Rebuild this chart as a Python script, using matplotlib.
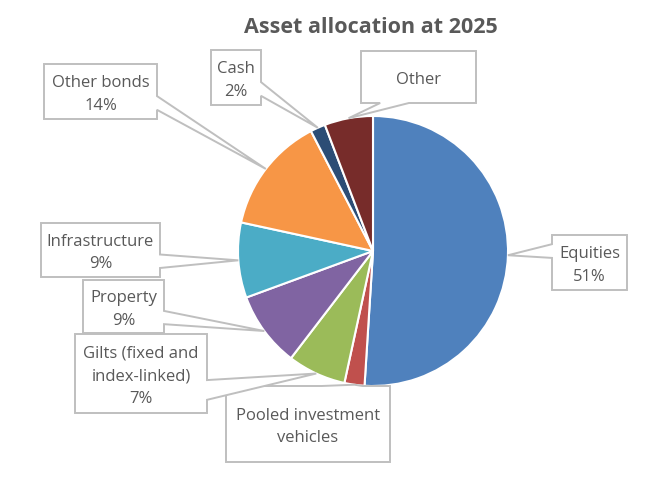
import numpy as np
import matplotlib.pyplot as plt
from matplotlib.patches import Polygon

plt.rcParams['font.family'] = ['Open Sans', 'DejaVu Sans']

# data
names = ['Equities', 'Pooled investment\nvehicles', 'Gilts (fixed and\nindex-linked)',
         'Property', 'Infrastructure', 'Other bonds', 'Cash', 'Other']
values = [51, 2.4, 7, 9, 9, 14, 1.8, 5.8]
show_pct = [True, False, True, True, True, True, True, False]
colors = ['#4F81BD', '#C0504D', '#9BBB59', '#8064A2', '#4BACC6', '#F79646', '#2C4D75', '#772C2A']

# label boxes in pixel coords (x0, y0, x1, y1), y going down
boxes = [(552, 235, 627, 290), (226, 386, 390, 462), (75, 334, 207, 413),
         (83, 280, 164, 333), (41, 223, 160, 277), (44, 64, 157, 119),
         (211, 50, 261, 105), (361, 51, 476, 103)]
draw_order = [0, 1, 3, 2, 4, 5, 6, 7]

cx, cy, r = 373, 251, 135


def callout(ax, box, tip, z):
    x0, y0, x1, y1 = box
    bx, by = (x0 + x1) / 2, (y0 + y1) / 2
    w, h = x1 - x0, y1 - y0
    dx, dy = (tip[0] - bx) / w, (tip[1] - by) / h
    if abs(dx) > abs(dy):
        if tip[1] < by:
            a, b = y0 + h * 2 / 12, y0 + h * 5 / 12
        else:
            a, b = y0 + h * 7 / 12, y0 + h * 10 / 12
        if dx > 0:
            pts = [(x0, y0), (x1, y0), (x1, a), tip, (x1, b), (x1, y1), (x0, y1)]
        else:
            pts = [(x0, y0), (x1, y0), (x1, y1), (x0, y1), (x0, b), tip, (x0, a)]
    else:
        if tip[0] < bx:
            a, b = x0 + w * 2 / 12, x0 + w * 5 / 12
        else:
            a, b = x0 + w * 7 / 12, x0 + w * 10 / 12
        if dy > 0:
            pts = [(x0, y0), (x1, y0), (x1, y1), (b, y1), tip, (a, y1), (x0, y1)]
        else:
            pts = [(x0, y0), (a, y0), tip, (b, y0), (x1, y0), (x1, y1), (x0, y1)]
    ax.add_patch(Polygon(pts, closed=True, facecolor='white', edgecolor='#BFBFBF',
                         linewidth=1.4, zorder=z, joinstyle='miter'))


fig = plt.figure(figsize=(6.7, 4.78), dpi=100)
ax = fig.add_axes([0, 0, 1, 1])

wedges, _ = ax.pie(values, colors=colors, startangle=-90, counterclock=True,
                   center=(cx, cy), radius=r, frame=True,
                   wedgeprops=dict(edgecolor='white', linewidth=1.5))
ax.set_xlim(0, 670)
ax.set_ylim(478, 0)
ax.set_aspect('equal')
ax.axis('off')

for k, i in enumerate(draw_order):
    wdg = wedges[i]
    th = np.deg2rad((wdg.theta1 + wdg.theta2) / 2)
    tip = (cx + r * np.cos(th), cy + r * np.sin(th))
    z = 5 + 2 * k
    callout(ax, boxes[i], tip, z)
    txt = names[i]
    if show_pct[i]:
        txt += '\n%d%%' % round(values[i])
    x0, y0, x1, y1 = boxes[i]
    ax.text((x0 + x1) / 2, (y0 + y1) / 2 + 3, txt, ha='center', va='center',
            fontsize=12, color='#595959', linespacing=1.55, zorder=z + 1)

ax.text(371, 27, 'Asset allocation at 2025', ha='center', va='center',
        fontsize=15.5, fontweight='bold', color='#595959')

fig.savefig('out.png', dpi=100)
